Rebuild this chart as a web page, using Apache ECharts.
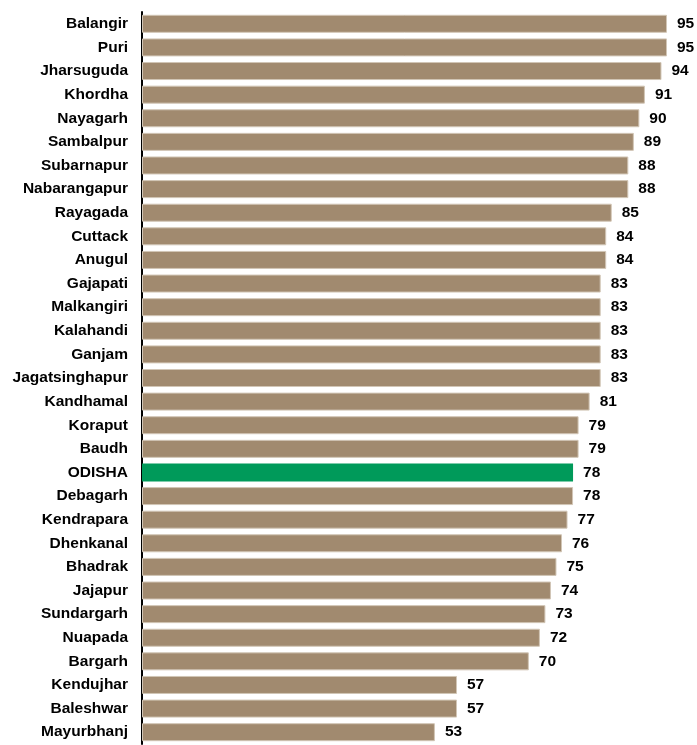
<!DOCTYPE html>
<html>
<head>
<meta charset="utf-8">
<script src="https://cdn.jsdelivr.net/npm/echarts@6/dist/echarts.min.js"></script>
<style>
html,body{margin:0;padding:0;background:#fff;}
#chart{width:697px;height:745px;}
</style>
</head>
<body>
<div id="chart"></div>
<script>
var categories = ["Balangir","Puri","Jharsuguda","Khordha","Nayagarh","Sambalpur","Subarnapur","Nabarangapur","Rayagada","Cuttack","Anugul","Gajapati","Malkangiri","Kalahandi","Ganjam","Jagatsinghapur","Kandhamal","Koraput","Baudh","ODISHA","Debagarh","Kendrapara","Dhenkanal","Bhadrak","Jajapur","Sundargarh","Nuapada","Bargarh","Kendujhar","Baleshwar","Mayurbhanj"];
var values = [95,95,94,91,90,89,88,88,85,84,84,83,83,83,83,83,81,79,79,78,78,77,76,75,74,73,72,70,57,57,53];
var highlight = "ODISHA";

var chart = echarts.init(document.getElementById('chart'));
var data = values.map(function(v, i){
  var isH = categories[i] === highlight;
  return {
    value: v,
    itemStyle: isH ? {color:'#009A5A', borderColor:'#009A5A', borderWidth:0} : {}
  };
});
chart.setOption({
  animation: false,
  grid: {left: 142, top: 12, width: 525, height: 732, containLabel: false},
  xAxis: {
    type: 'value', min: 0, max: 95,
    show: false
  },
  yAxis: {
    type: 'category',
    data: categories,
    inverse: true,
    axisLine: {show: true, lineStyle: {color: '#000', width: 2}},
    axisTick: {show: false},
    axisLabel: {
      color: '#000', fontWeight: 'bold', fontSize: 15.5,
      fontFamily: 'Liberation Sans, Arial, sans-serif', margin: 14
    }
  },
  series: [{
    type: 'bar',
    data: data,
    barWidth: 18,
    itemStyle: {color: '#A18A6F', borderColor: '#D2C6B6', borderWidth: 1},
    label: {
      show: true, position: 'right', distance: 10,
      color: '#000', fontWeight: 'bold', fontSize: 15.5,
      fontFamily: 'Liberation Sans, Arial, sans-serif'
    }
  }]
});
</script>
</body>
</html>
